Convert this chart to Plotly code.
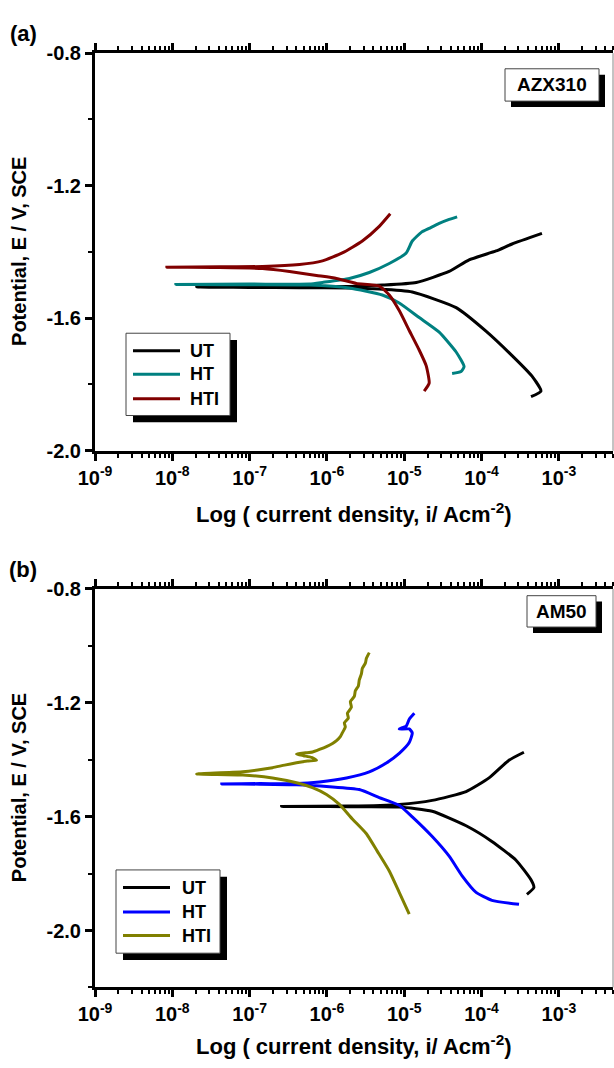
import plotly.graph_objects as go

# ---------------- (a) AZX310 : current density (A/cm^2), potential (V vs SCE)
azx_ut_i = [4.36e-4, 5.86e-4, 4.49e-4, 2.48e-4, 1.14e-4, 4.69e-5, 1.27e-5, 4.75e-6, 1.95e-6,
            4.42e-7, 1.0e-7, 2.07e-8, 1.0e-7, 4.42e-7, 1.95e-6, 5.2e-6, 1.43e-5, 3.81e-5,
            6.9e-5, 1.54e-4, 2.48e-4, 6.04e-4]
azx_ut_e = [-1.837, -1.820, -1.775, -1.713, -1.639, -1.568, -1.521, -1.512, -1.509,
            -1.508, -1.507, -1.506, -1.505, -1.505, -1.504, -1.500, -1.492, -1.459,
            -1.424, -1.397, -1.376, -1.344]

azx_ht_i = [4.16e-5, 5.43e-5, 5.94e-5, 4.69e-5, 2.83e-5, 1.56e-5, 8.61e-6, 5.2e-6, 1.95e-6,
            5.94e-7, 1.0e-7, 1.11e-8, 1.0e-7, 5.94e-7, 8.75e-7, 1.95e-6, 3.53e-6, 6.4e-6,
            1.06e-5, 1.27e-5, 1.66e-5, 2.1e-5, 2.83e-5, 3.81e-5, 4.83e-5]
azx_ht_e = [-1.767, -1.761, -1.746, -1.702, -1.642, -1.598, -1.554, -1.530, -1.509,
            -1.500, -1.499, -1.498, -1.497, -1.497, -1.492, -1.480, -1.462, -1.435,
            -1.403, -1.367, -1.341, -1.329, -1.314, -1.302, -1.294]

azx_hti_i = [1.81e-5, 2.1e-5, 1.92e-5, 1.56e-5, 1.16e-5, 8.61e-6, 6.4e-6, 4.75e-6, 2.4e-6,
             1.33e-6, 7.33e-7, 3.28e-7, 1.47e-7, 4.1e-8, 8.5e-9, 4.1e-8, 1.47e-7, 4.42e-7,
             8.75e-7, 1.58e-6, 2.87e-6, 4.75e-6, 6.59e-6]
azx_hti_e = [-1.820, -1.796, -1.743, -1.696, -1.637, -1.577, -1.530, -1.503, -1.495,
             -1.480, -1.471, -1.459, -1.450, -1.447, -1.446, -1.445, -1.444, -1.438,
             -1.427, -1.403, -1.367, -1.323, -1.285]

# ---------------- (b) AM50
am_ut_i = [3.86e-4, 4.75e-4, 4.36e-4, 2.79e-4, 1.36e-4, 6.31e-5, 2.3e-5, 8.61e-6, 1.95e-6,
           2.59e-7, 1.95e-6, 8.61e-6, 2.3e-5, 6.31e-5, 1.25e-4, 2.26e-4, 3.53e-4]
am_ut_e = [-1.873, -1.849, -1.822, -1.753, -1.687, -1.632, -1.581, -1.566, -1.565,
           -1.564, -1.563, -1.557, -1.543, -1.512, -1.464, -1.402, -1.374]

am_ht_i = [3.05e-4, 1.36e-4, 8.49e-5, 5.6e-5, 3.81e-5, 2.3e-5, 1.27e-5, 8.61e-6, 4.75e-6,
           2.62e-6, 1.08e-6, 4.04e-7, 1.35e-7, 4.36e-8, 1.35e-7, 4.04e-7, 8.0e-7, 1.79e-6,
           3.53e-6, 5.86e-6, 8.61e-6, 1.16e-5, 1.27e-5, 1.16e-5, 8.61e-6, 1.06e-5, 1.16e-5,
           1.35e-5]
am_ht_e = [-1.908, -1.894, -1.866, -1.808, -1.739, -1.670, -1.601, -1.560, -1.533,
           -1.505, -1.495, -1.488, -1.486, -1.485, -1.484, -1.484, -1.478, -1.464,
           -1.443, -1.412, -1.378, -1.340, -1.306, -1.292, -1.292, -1.282, -1.258,
           -1.237]

am_hti_i = [1.16e-5, 8.61e-6, 6.4e-6, 4.49e-6, 3.24e-6, 2.13e-6, 1.45e-6, 9.86e-7, 6.5e-7,
            4.04e-7, 1.98e-7, 8.13e-8, 2.07e-8,
            8.13e-8, 1.27e-7, 1.98e-7, 2.83e-7, 4.04e-7, 5.6e-7, 7.33e-7, 6.31e-7, 4.98e-7,
            4.04e-7, 5.28e-7, 6.5e-7, 8.0e-7, 9.86e-7, 1.18e-6, 1.33e-6, 1.49e-6, 1.58e-6,
            1.73e-6, 1.68e-6, 1.89e-6, 1.84e-6, 2.07e-6, 2.01e-6, 2.26e-6, 2.33e-6, 2.55e-6,
            2.62e-6, 2.79e-6, 2.87e-6, 3.14e-6, 3.24e-6, 3.43e-6, 3.53e-6]
am_hti_e = [-1.942, -1.866, -1.791, -1.722, -1.660, -1.608, -1.557, -1.522, -1.498,
            -1.481, -1.464, -1.454, -1.450,
            -1.442, -1.436, -1.428, -1.419, -1.411, -1.405, -1.402, -1.392, -1.386,
            -1.380, -1.376, -1.373, -1.364, -1.354, -1.343, -1.333, -1.319, -1.306,
            -1.285, -1.271, -1.254, -1.237, -1.216, -1.196, -1.178, -1.158, -1.141,
            -1.120, -1.099, -1.079, -1.061, -1.044, -1.030, -1.024]

series_names = ["UT", "HT", "HTI"]
colors_a = ["#000000", "#008080", "#800000"]
colors_b = ["#000000", "#0000FF", "#808000"]

x_tick_vals = [1e-9, 1e-8, 1e-7, 1e-6, 1e-5, 1e-4, 1e-3]
x_tick_text = ["10<sup>-9</sup>", "10<sup>-8</sup>", "10<sup>-7</sup>", "10<sup>-6</sup>",
               "10<sup>-5</sup>", "10<sup>-4</sup>", "10<sup>-3</sup>"]
y_tick_vals = [-0.8, -1.2, -1.6, -2.0]
y_tick_text = ["-0.8", "-1.2", "-1.6", "-2.0"]

W, H = 614, 1068
ML, MR = 95, 1
PW = W - ML - MR


def px_x(px):
    return (px - ML) / PW


def px_y(py):
    return (H - py) / H


FONT = "Liberation Sans"
fig = go.Figure()

panels = [
    ("x", "y", [(azx_ut_i, azx_ut_e), (azx_ht_i, azx_ht_e), (azx_hti_i, azx_hti_e)], colors_a),
    ("x2", "y2", [(am_ut_i, am_ut_e), (am_ht_i, am_ht_e), (am_hti_i, am_hti_e)], colors_b),
]
for xa, ya, curves, cols in panels:
    for name, (ci, ce), col in zip(series_names, curves, cols):
        fig.add_trace(go.Scatter(
            x=ci, y=ce, mode="lines", name=name, showlegend=False,
            line=dict(color=col, width=3, shape="spline", smoothing=0.5),
            xaxis=xa, yaxis=ya))

minor_x = [m * 10.0 ** e for e in range(-9, -2) for m in range(2, 10)]


def xaxis_style(anchor):
    return dict(
        type="log", range=[-9, -2.3], anchor=anchor, domain=[0, 1],
        showline=True, linecolor="black", linewidth=3, mirror="ticks",
        ticks="outside", ticklen=7, tickwidth=2.5, tickcolor="black",
        tickmode="array", tickvals=x_tick_vals, ticktext=x_tick_text,
        tickfont=dict(family=FONT, size=20, color="black", weight="bold"),
        minor=dict(tickmode="array", tickvals=minor_x, ticks="outside",
                   ticklen=4, tickwidth=2, tickcolor="black", showgrid=False),
        showgrid=False, zeroline=False,
    )


def yaxis_style(anchor, domain, rng, minor_vals):
    return dict(
        range=rng, anchor=anchor, domain=domain,
        showline=True, linecolor="black", linewidth=3, mirror=False,
        ticks="outside", ticklen=7, tickwidth=2.5, tickcolor="black",
        tickmode="array", tickvals=y_tick_vals, ticktext=y_tick_text,
        tickfont=dict(family=FONT, size=20, color="black", weight="bold"),
        minor=dict(tickmode="array", tickvals=minor_vals, ticks="outside",
                   ticklen=4, tickwidth=2, tickcolor="black", showgrid=False),
        showgrid=False, zeroline=False,
    )


top_dom = [px_y(449), px_y(43)]
bot_dom = [px_y(997), px_y(590)]

fig.update_layout(
    width=W, height=H,
    margin=dict(l=ML, r=MR, t=0, b=0),
    paper_bgcolor="white", plot_bgcolor="white",
    xaxis=xaxis_style("y"),
    yaxis=yaxis_style("x", top_dom, [-2.0, -0.8], [-1.0, -1.4, -1.8]),
    xaxis2=xaxis_style("y2"),
    yaxis2=yaxis_style("x2", bot_dom, [-2.2, -0.8], [-1.0, -1.4, -1.8, -2.2]),
)

shapes = []
annotations = []


def bold(size):
    return dict(family=FONT, size=size, color="black", weight="bold")


# right frame edge of each panel
for dom in (top_dom, bot_dom):
    shapes.append(dict(type="line", xref="paper", yref="paper", x0=1, x1=1,
                       y0=dom[0], y1=dom[1], line=dict(color="#888888", width=1)))


def boxed_label(text, x0, y0, x1, y1, off=6):
    shapes.append(dict(type="rect", xref="paper", yref="paper",
                       x0=px_x(x0 + off), x1=px_x(x1 + off), y0=px_y(y1 + off), y1=px_y(y0 + off),
                       fillcolor="black", line=dict(width=0)))
    shapes.append(dict(type="rect", xref="paper", yref="paper",
                       x0=px_x(x0), x1=px_x(x1), y0=px_y(y1), y1=px_y(y0),
                       fillcolor="white", line=dict(color="#444444", width=1)))
    if text:
        annotations.append(dict(text=text, xref="paper", yref="paper",
                                x=px_x((x0 + x1) / 2), y=px_y((y0 + y1) / 2),
                                xanchor="center", yanchor="middle", showarrow=False,
                                font=bold(19)))


def legend_block(x0, y0, x1, y1, rows, line_x0, line_x1, text_x, cols):
    boxed_label(None, x0, y0, x1, y1, off=7)
    for name, ry, col in zip(series_names, rows, cols):
        shapes.append(dict(type="line", xref="paper", yref="paper",
                           x0=px_x(line_x0), x1=px_x(line_x1), y0=px_y(ry), y1=px_y(ry),
                           line=dict(color=col, width=3)))
        annotations.append(dict(text=name, xref="paper", yref="paper",
                                x=px_x(text_x), y=px_y(ry), xanchor="left", yanchor="middle",
                                showarrow=False, font=bold(18)))


boxed_label("AZX310", 505, 59, 599, 92)
boxed_label("AM50", 527, 597, 596, 629)
legend_block(126, 329, 230, 413, [347, 371, 396], 133, 180, 188, colors_a)
legend_block(116, 877, 220, 962, [895, 920, 944], 123, 170, 180, colors_b)

# panel letters and axis titles
for letter, cy in (("(a)", 23), ("(b)", 570)):
    annotations.append(dict(text=letter, xref="paper", yref="paper", x=px_x(23), y=px_y(cy),
                            xanchor="center", yanchor="middle", showarrow=False, font=bold(22)))

for cy in ((43 + 449) / 2, (590 + 997) / 2):
    annotations.append(dict(text="Potential, E / V, SCE", xref="paper", yref="paper",
                            x=px_x(19), y=px_y(cy), textangle=-90,
                            xanchor="center", yanchor="middle", showarrow=False, font=bold(20)))

for cy in (513, 1056):
    annotations.append(dict(text="Log ( current density, i/ Acm<sup>-2</sup>)",
                            xref="paper", yref="paper", x=px_x(354), y=px_y(cy),
                            xanchor="center", yanchor="middle", showarrow=False, font=bold(22)))

fig.update_layout(shapes=shapes, annotations=annotations)
fig.write_html("out.html")
